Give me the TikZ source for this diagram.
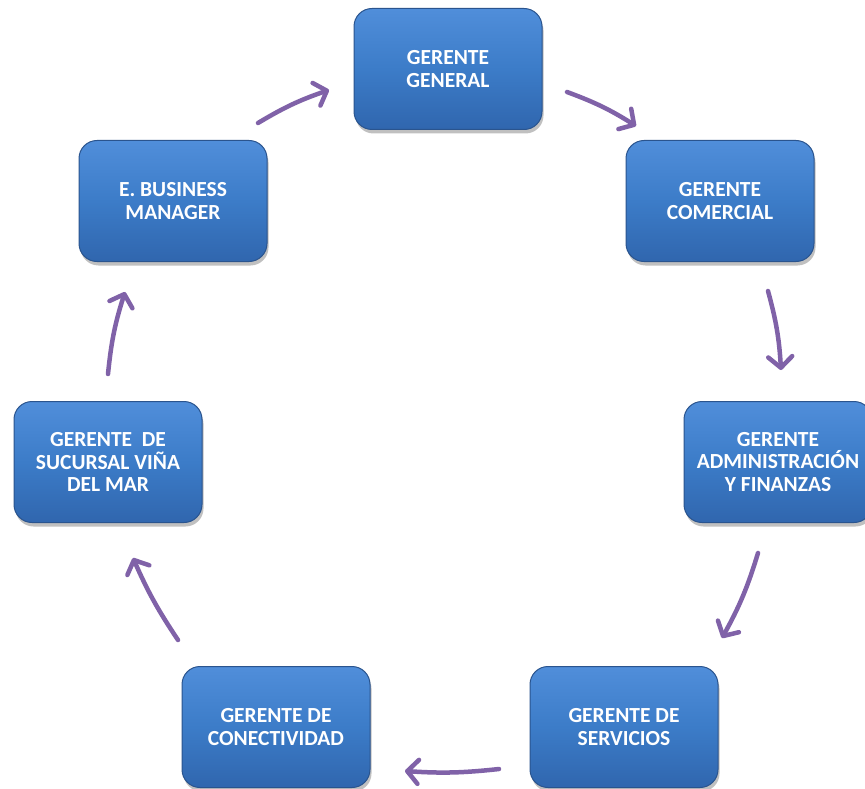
\documentclass[tikz,border=0pt]{standalone}
\usepackage{fontspec}
\setmainfont{Carlito}
\usetikzlibrary{arrows.meta,shadows,shapes.misc}
\definecolor{boxtop}{RGB}{80,142,218}
\definecolor{boxmid}{RGB}{60,124,200}
\definecolor{boxbot}{RGB}{48,102,174}
\definecolor{boxedge}{RGB}{42,84,142}
\definecolor{arrowpurple}{RGB}{128,98,168}
\tikzset{
  rolebox/.style={draw=boxedge, line width=1pt, rounded corners=18pt,
    top color=boxtop, bottom color=boxbot, middle color=boxmid,
    minimum width=188pt, minimum height=121pt, inner sep=2pt,
    align=center, text=white, font=\bfseries\fontsize{21.5}{22.5}\selectfont,
    drop shadow={shadow xshift=1.5pt, shadow yshift=-4pt, opacity=0.35, fill=black!70}},
  flowarrow/.style={draw=arrowpurple, line width=4.5pt, line cap=round, line join=round,
    -{Straight Barb[length=11pt,width=24pt,line cap=round,line join=round]}}
}
\begin{document}
\begin{tikzpicture}[x=1pt,y=-1pt]
\clip (0,0) rectangle (865,789);
\fill[white] (0,0) rectangle (865,789);
\node[rolebox] (gg)  at (448,69)  {GERENTE\\GENERAL};
\node[rolebox] (com) at (720,201) {GERENTE\\COMERCIAL};
\node[rolebox] (adm) at (778,462) {GERENTE\\ADMINISTRACIÓN\\Y FINANZAS};
\node[rolebox] (ser) at (624,727) {GERENTE DE\\SERVICIOS};
\node[rolebox] (con) at (276,727) {GERENTE DE\\CONECTIVIDAD};
\node[rolebox] (suc) at (108,462) {GERENTE~~DE\\SUCURSAL VIÑA\\DEL MAR};
\node[rolebox] (eb)  at (173,201) {E. BUSINESS\\MANAGER};
% arrow end points
\coordinate (a1s) at (567,92);  \coordinate (a1e) at (636,126);
\coordinate (a2s) at (768,291); \coordinate (a2e) at (781,370);
\coordinate (a3s) at (758,553); \coordinate (a3e) at (722,638);
\coordinate (a4s) at (499,769); \coordinate (a4e) at (405,771);
\coordinate (a5s) at (178,640); \coordinate (a5e) at (133,558);
\coordinate (a6s) at (108,374); \coordinate (a6e) at (125,292);
\coordinate (a7s) at (258,123); \coordinate (a7e) at (329,90);
\draw[flowarrow] (a1s) to[bend left=6] (a1e);
\draw[flowarrow] (a2s) to[bend left=6] (a2e);
\draw[flowarrow] (a3s) to[bend left=6] (a3e);
\draw[flowarrow] (a4s) to[bend left=5] (a4e);
\draw[flowarrow] (a5s) to[bend left=5] (a5e);
\draw[flowarrow] (a6s) to[bend left=6] (a6e);
\draw[flowarrow] (a7s) to[bend left=6] (a7e);
\end{tikzpicture}
\end{document}
